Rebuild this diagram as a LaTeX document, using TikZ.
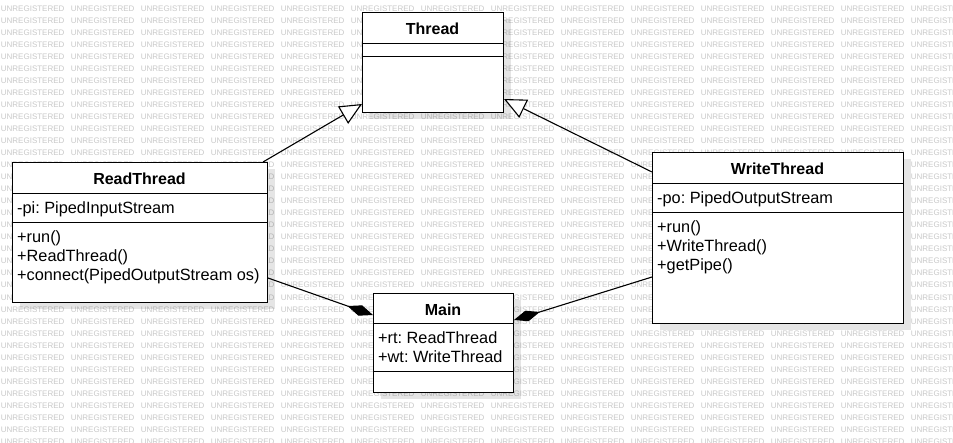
\documentclass[tikz,border=0pt]{standalone}
\usepackage{fontspec}
\setmainfont{Liberation Sans}
\usetikzlibrary{arrows.meta,calc,shadows}
\frenchspacing
\begin{document}
\begin{tikzpicture}[x=1pt,y=-1pt,
  wm/.style={inner sep=0pt, anchor=west, text=black!21, font=\fontsize{8}{8}\selectfont},
  classbox/.style={draw, line width=1pt, fill=white, inner sep=0pt, anchor=north west,
    drop shadow={shadow xshift=7pt, shadow yshift=-6pt, opacity=0.1, fill=black}},
  title/.style={inner sep=0pt, anchor=base, font=\fontsize{16}{19}\selectfont\bfseries},
  member/.style={inner sep=0pt, anchor=base west, font=\fontsize{16.3}{19}\selectfont},
  divider/.style={line width=1pt},
  gen/.style={line width=1.1pt, -{Triangle[open, length=22pt, width=20pt, fill=white]}},
  comp/.style={line width=1.1pt, -{Diamond[length=27pt, width=11pt]}}
]
\useasboundingbox (0,0) rectangle (953,442);
\fill[white] (0,0) rectangle (953,442);
% watermark
\foreach \r in {0,...,36}{
  \foreach \c in {0,...,13}{
    \node[wm] (wm-\r-\c) at (0.7+70*\c, 8.3+12.04*\r) {UNREGISTERED};
  }
}
% Thread
\node[classbox, minimum width=141pt, minimum height=100pt] (th) at (362,12) {};
\draw[divider] ($(th.north west)+(0,31)$) -- ($(th.north east)+(0,31)$);
\draw[divider] ($(th.north west)+(0,44)$) -- ($(th.north east)+(0,44)$);
\node[title] (th-t) at (432.5,34) {Thread};
% ReadThread
\node[classbox, minimum width=255pt, minimum height=140pt] (rd) at (12,162) {};
\draw[divider] ($(rd.north west)+(0,31)$) -- ($(rd.north east)+(0,31)$);
\draw[divider] ($(rd.north west)+(0,60)$) -- ($(rd.north east)+(0,60)$);
\node[title] (rd-t) at (139.5,184) {ReadThread};
\node[member] (rd-a1) at (17,213.5) {-pi: PipedInputStream};
\node[member] (rd-m1) at (17,242) {+run()};
\node[member] (rd-m2) at (17,261) {+ReadThread()};
\node[member] (rd-m3) at (17,280) {+connect(PipedOutputStream os)};
% WriteThread
\node[classbox, minimum width=251pt, minimum height=171pt] (wt) at (652,152) {};
\draw[divider] ($(wt.north west)+(0,31)$) -- ($(wt.north east)+(0,31)$);
\draw[divider] ($(wt.north west)+(0,60)$) -- ($(wt.north east)+(0,60)$);
\node[title] (wt-t) at (777.5,174) {WriteThread};
\node[member] (wt-a1) at (657,203.5) {-po: PipedOutputStream};
\node[member] (wt-m1) at (657,232) {+run()};
\node[member] (wt-m2) at (657,251) {+WriteThread()};
\node[member] (wt-m3) at (657,270) {+getPipe()};
% Main
\node[classbox, minimum width=140pt, minimum height=99pt] (mn) at (373,293) {};
\draw[divider] ($(mn.north west)+(0,30)$) -- ($(mn.north east)+(0,30)$);
\draw[divider] ($(mn.north west)+(0,78)$) -- ($(mn.north east)+(0,78)$);
\node[title] (mn-t) at (443,315) {Main};
\node[member] (mn-a1) at (378,343) {+rt: ReadThread};
\node[member] (mn-a2) at (378,362) {+wt: WriteThread};
% connectors
\draw[gen] ($(rd.north east)+(-5,0)$) -- ($(th.south west)+(0,-9)$);
\draw[gen] ($(wt.north west)+(0,20)$) -- ($(th.south east)+(0,-14)$);
\draw[comp] ($(rd.north east)+(0,116)$) -- ($(mn.north west)+(0,22)$);
\draw[comp] ($(wt.north west)+(0,125)$) -- ($(mn.north east)+(0,27)$);
\end{tikzpicture}
\end{document}
